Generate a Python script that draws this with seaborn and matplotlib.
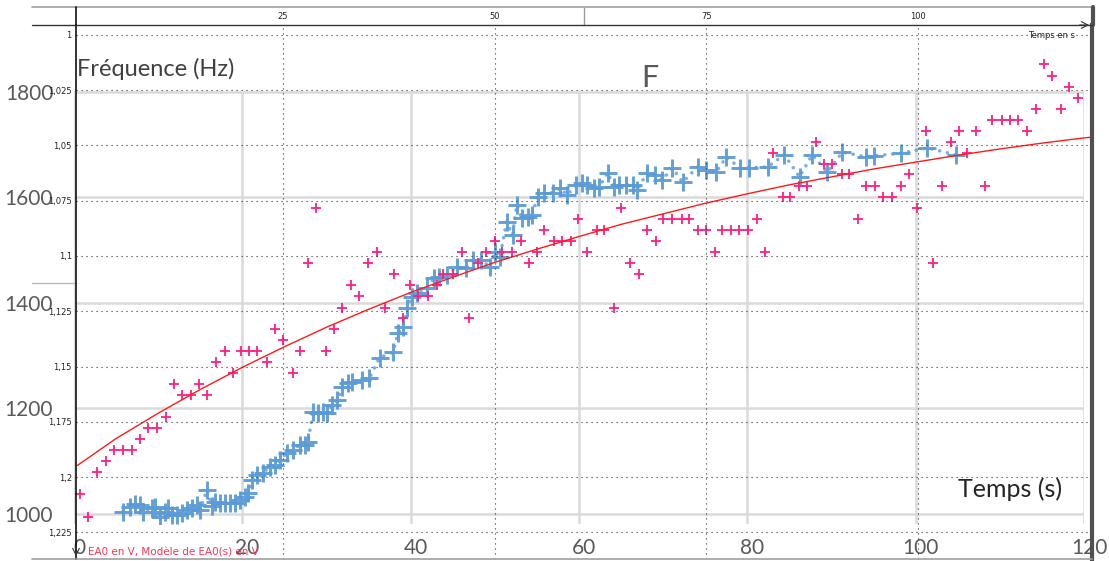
import matplotlib
matplotlib.use("Agg")
import matplotlib.pyplot as plt
from matplotlib.lines import Line2D
from matplotlib.transforms import ScaledTranslation
import pandas as pd
import seaborn as sns

# ---------------- data ----------------
x_ticks = [0, 20, 40, 60, 80, 100, 120]
y_ticks = [1000, 1200, 1400, 1600, 1800]

blue_t = [5.8, 6.6, 7.2, 7.8, 8.2, 9.3, 9.6, 10.2, 10.8, 11.2, 11.6, 12.2, 12.8, 13.4, 14.0,
          14.6, 15.0, 15.8, 16.4, 16.7, 17.3, 17.9, 18.5, 19.1, 19.7, 20.3, 20.7, 21.2, 21.8,
          22.4, 23.3, 23.9, 24.5, 25.3, 26.0, 26.8, 27.4, 27.8, 28.4, 29.0, 29.6, 30.1, 30.7,
          31.3, 31.9, 32.5, 33.0, 34.2, 35.1, 36.3, 37.9, 38.5, 39.1, 39.6, 40.1, 40.8, 41.9,
          42.8, 43.4, 44.3, 45.5, 46.6, 47.4, 48.4, 49.4, 50.0, 50.6, 51.4, 52.1, 52.6, 53.2,
          53.9, 54.4, 55.1, 55.9, 56.9, 57.7, 58.6, 59.7, 60.3, 60.9, 61.8, 62.4, 63.4, 64.2,
          64.8, 65.6, 66.4, 66.9, 68.1, 69.0, 69.9, 71.1, 72.3, 74.1, 75.1, 76.3, 77.5, 79.1,
          80.2, 82.4, 84.4, 86.2, 87.7, 89.5, 91.3, 94.1, 95.1, 98.3, 101.4, 104.8]
blue_f = [1004, 1013, 1019, 1017, 1004, 1011, 1013, 994, 1004, 1011, 998, 998, 1002, 1008, 1011,
          1017, 1008, 1046, 1015, 1023, 1021, 1021, 1021, 1021, 1027, 1032, 1040, 1064, 1074,
          1078, 1089, 1093, 1102, 1116, 1121, 1131, 1131, 1137, 1193, 1191, 1193, 1191, 1207,
          1216, 1241, 1248, 1250, 1254, 1258, 1296, 1307, 1343, 1355, 1391, 1411, 1419, 1428,
          1447, 1449, 1453, 1468, 1466, 1482, 1482, 1468, 1497, 1487, 1554, 1529, 1586, 1561,
          1563, 1567, 1601, 1609, 1609, 1618, 1605, 1624, 1628, 1624, 1618, 1620, 1647, 1620,
          1624, 1624, 1624, 1614, 1647, 1643, 1633, 1656, 1629, 1658, 1652, 1648, 1677, 1656,
          1656, 1658, 1681, 1639, 1681, 1648, 1686, 1677, 1679, 1684, 1694, 1681]

pink_t = [0.7, 1.7, 2.7, 3.8, 4.7, 5.8, 6.9, 7.8, 8.8, 9.9, 10.9, 11.9, 12.8, 13.9, 14.8, 15.8,
          16.9, 17.9, 18.9, 19.9, 20.8, 21.8, 22.9, 23.9, 24.8, 26.0, 26.9, 27.8, 28.8, 29.9,
          30.9, 31.8, 32.9, 33.9, 34.9, 36.0, 36.9, 38.0, 39.1, 39.9, 40.9, 42.0, 43.1, 43.9,
          45.0, 46.1, 46.9, 48.0, 49.0, 50.0, 50.9, 52.0, 53.1, 54.0, 55.0, 55.9, 57.0, 58.0,
          59.1, 59.9, 61.0, 62.1, 63.0, 64.1, 65.0, 66.1, 67.1, 68.1, 69.1, 70.0, 71.1, 72.2,
          73.1, 74.1, 75.1, 76.2, 77.0, 78.1, 79.0, 80.1, 81.1, 82.1, 83.1, 84.2, 85.1, 86.1,
          87.1, 88.2, 89.1, 90.1, 91.2, 92.1, 93.2, 94.1, 95.2, 96.1, 97.2, 98.2, 99.2, 100.2,
          101.2, 102.1, 103.1, 104.2, 105.2, 106.1, 107.2, 108.2, 109.1, 110.3, 111.2, 112.2,
          113.2, 114.3, 115.3, 116.2, 117.3, 118.2, 119.3]
pink_f = [1038, 994, 1080, 1100, 1121, 1121, 1121, 1142, 1163, 1163, 1184, 1246, 1226, 1226, 1246,
          1226, 1288, 1309, 1267, 1309, 1309, 1309, 1288, 1351, 1330, 1267, 1309, 1476, 1580,
          1309, 1351, 1391, 1434, 1413, 1476, 1497, 1391, 1455, 1372, 1434, 1413, 1413, 1434,
          1455, 1455, 1497, 1372, 1476, 1497, 1518, 1497, 1497, 1518, 1476, 1497, 1538, 1518,
          1518, 1518, 1559, 1497, 1538, 1538, 1391, 1580, 1476, 1455, 1538, 1518, 1559, 1559,
          1559, 1559, 1538, 1538, 1497, 1538, 1538, 1538, 1538, 1559, 1497, 1684, 1601, 1601,
          1622, 1622, 1705, 1664, 1664, 1645, 1645, 1559, 1622, 1622, 1601, 1601, 1622, 1645,
          1580, 1726, 1476, 1622, 1705, 1726, 1684, 1726, 1622, 1747, 1747, 1747, 1747, 1726,
          1768, 1853, 1830, 1768, 1810, 1789]

model_t = [0.4, 5, 10, 15, 20, 25, 30, 35, 40, 45, 50, 55, 60, 65, 70, 75, 80, 85, 90, 95,
           100, 105, 110, 115, 120, 120.7]
model_f = [1092, 1143, 1191, 1236, 1278, 1317, 1354, 1388, 1420, 1449, 1477, 1502, 1526, 1549,
           1569, 1589, 1607, 1624, 1639, 1654, 1667, 1680, 1692, 1703, 1713, 1714]

latis_x_ticks = [25, 50, 75, 100]
latis_x_labels = ["25", "50", "75", "100"]
latis_y_ticks = [1.0, 1.025, 1.05, 1.075, 1.1, 1.125, 1.15, 1.175, 1.2, 1.225]
latis_y_labels = ["1", "1,025", "1,05", "1,075", "1,1", "1,125", "1,15", "1,175", "1,2", "1,225"]

# ---------------- style ----------------
sns.set_theme(style="white")
plt.rcParams['font.family'] = ['Lato', 'DejaVu Sans']

W, H = 1109, 561
fig = plt.figure(figsize=(W / 100, H / 100), dpi=100)
fig.patch.set_facecolor("white")


def fx(px):
    return px / W


def fy(py):
    return 1 - py / H


# ---------------- Excel-like axes ----------------
ax = fig.add_axes([fx(74), fy(524), fx(1084) - fx(74), fy(25) - fy(524)], zorder=1)
ax.set_facecolor("none")
for s in ax.spines.values():
    s.set_visible(False)

grid_c = "#DADADA"
ax.set_xlim(0, 120)
ax.set_ylim(981, 1927)
ax.set_xticks(x_ticks)
ax.set_yticks(y_ticks)
ax.grid(axis="y", color=grid_c, lw=1.8)
ax.grid(axis="x", visible=False)
ax.vlines(x_ticks, ax.get_ylim()[0], y_ticks[-1], color=grid_c, lw=1.8, zorder=0.5)
ax.tick_params(axis="x", length=0, labelsize=15, labelcolor="#595959", pad=10)
ax.tick_params(axis="y", length=0, labelsize=15, labelcolor="#595959", pad=15)
off = ScaledTranslation(0.05, 0, fig.dpi_scale_trans)
for lab in ax.get_xticklabels():
    lab.set_transform(lab.get_transform() + off)

df_blue = pd.DataFrame({"t": blue_t, "f": blue_f})
df_pink = pd.DataFrame({"t": pink_t, "f": pink_f})
df_model = pd.DataFrame({"t": model_t, "f": model_f})

blue = "#5B9BD5"
sns.lineplot(data=df_blue, x="t", y="f", ax=ax, sort=False, estimator=None, color=blue,
             lw=2.6, linestyle=(0, (0.01, 2.2)), dash_capstyle="round", alpha=0.8, zorder=2)
sns.scatterplot(data=df_blue, x="t", y="f", ax=ax, marker="+", s=185, linewidth=2.1,
                color=blue, alpha=0.95, zorder=3)
sns.scatterplot(data=df_pink, x="t", y="f", ax=ax, marker="+", s=42, linewidth=1.3,
                color="#FF1F7F", zorder=4, clip_on=False)
sns.lineplot(data=df_model, x="t", y="f", ax=ax, sort=False, estimator=None,
             color="#FF1A1A", lw=1.0, zorder=5, clip_on=False)
ax.set_xlabel("")
ax.set_ylabel("")

# ---------------- Latis-like overlay axes ----------------
ax2 = fig.add_axes([fx(76), fy(559), fx(1092) - fx(76), fy(25) - fy(559)], zorder=2)
ax2.set_facecolor("none")
ax2.set_xlim(0.555, 120.55)
ax2.set_ylim(1.2371, 0.99548)
ax2.xaxis.tick_top()
ax2.set_xticks(latis_x_ticks)
ax2.set_xticklabels(latis_x_labels)
ax2.set_yticks(latis_y_ticks)
ax2.set_yticklabels(latis_y_labels)
ax2.tick_params(length=0, labelsize=6, pad=3, labelcolor="#222222")
for lab in ax2.get_xticklabels() + ax2.get_yticklabels():
    lab.set_fontfamily("DejaVu Sans")
ax2.grid(True, color="#333333", lw=0.8, linestyle=(0, (1, 3.5)))
ax2.spines["left"].set_color("#111111")
ax2.spines["left"].set_linewidth(1.2)
ax2.spines["top"].set_color("#333333")
ax2.spines["top"].set_linewidth(1.0)
ax2.spines["right"].set_color("#505050")
ax2.spines["right"].set_linewidth(3)
ax2.spines["bottom"].set_color("#A0A0A0")
ax2.spines["bottom"].set_linewidth(1.2)

ax2.annotate("", xy=(1.0, 1.0), xytext=(0.985, 1.0), xycoords="axes fraction",
             arrowprops=dict(arrowstyle="->", color="#333333", lw=0.8, mutation_scale=12))
ax2.annotate("", xy=(0.0, 0.0), xytext=(0.0, 0.03), xycoords="axes fraction",
             arrowprops=dict(arrowstyle="->", color="#333333", lw=0.8, mutation_scale=12))

ax2.text(0.983, 0.981, "Temps en s", transform=ax2.transAxes, ha="right", va="center",
         fontsize=6, color="#222222", family="DejaVu Sans")
ax2.text(0.0118, 0.013, "EA0 en V, Modèle de EA0(s) en V", transform=ax2.transAxes,
         ha="left", va="center", fontsize=7.5, color="#FF3355", family="DejaVu Sans")

# frame decorations
frame = [
    ([fx(32), fx(1093)], [fy(7), fy(7)], "#A0A0A0", 1.2),
    ([fx(32), fx(76)], [fy(25), fy(25)], "#333333", 1.0),
    ([fx(76), fx(76)], [fy(25), fy(7)], "#111111", 1.2),
    ([fx(32), fx(76)], [fy(559), fy(559)], "#A0A0A0", 1.2),
    ([fx(32), fx(76)], [fy(283), fy(283)], "#BBBBBB", 1.0),
    ([fx(584), fx(584)], [fy(8), fy(25)], "#999999", 1.0),
    ([fx(1093), fx(1093)], [fy(7), fy(25)], "#505050", 3.0),
]
for xs, ys, c, lw in frame:
    fig.add_artist(Line2D(xs, ys, color=c, lw=lw, transform=fig.transFigure))

# ---------------- texts ----------------
fig.text(fx(77), fy(69), "Fréquence (Hz)", fontsize=17, color="#404040", ha="left", va="center")
fig.text(fx(650), fy(78), "F", fontsize=22, color="#595959", ha="center", va="center")
fig.text(fx(1010), fy(489), "Temps (s)", fontsize=18, color="#262626", ha="center", va="center")

fig.savefig("out.png", dpi=100, facecolor="white")
